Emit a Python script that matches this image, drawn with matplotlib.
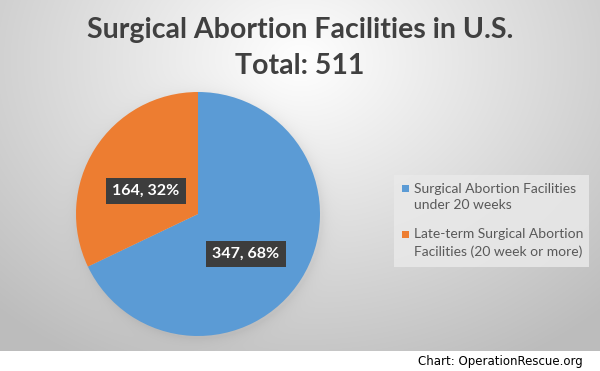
import matplotlib.pyplot as plt
from matplotlib.patches import Rectangle
import numpy as np

# Data
categories = ['Surgical Abortion Facilities\nunder 20 weeks',
              'Late-term Surgical Abortion\nFacilities (20 week or more)']
values = [347, 164]
percents = [68, 32]
colors = ['#5B9BD5', '#ED7D31']

fig = plt.figure(figsize=(6, 3.71), dpi=100)

r = 122
cx, cy = 198, 214

# background radial gradient (chart area) and white footer strip
bg = fig.add_axes([0, 0, 1, 1])
yy, xx = np.mgrid[0:371, 0:600]
d = np.sqrt(((xx - 300) / 420.0) ** 2 + ((yy - 60) / 330.0) ** 2)
shade = np.clip(1.0 - 0.25 * d, 0.74, 1.0)
# soft shadow around the pie
dp = np.sqrt((xx - cx - 2) ** 2 + (yy - cy - 2) ** 2) - r
shade = shade - 0.05 * np.exp(-np.clip(dp, 0, None) / 6.0)
img = np.dstack([shade, shade, shade])
img[351:, :, :] = 1.0
bg.imshow(img, aspect='auto', extent=[0, 600, 371, 0])
bg.set_xlim(0, 600)
bg.set_ylim(371, 0)
bg.axis('off')

# title
fig.text(0.5, 1 - 30 / 371, 'Surgical Abortion Facilities in U.S.', ha='center', va='center',
         fontsize=20.5, fontweight='bold', color='#404040', family='Lato')
fig.text(0.5, 1 - 66 / 371, 'Total: 511', ha='center', va='center',
         fontsize=20.5, fontweight='bold', color='#404040', family='Lato')

# pie
ax = fig.add_axes([(cx - r) / 600, 1 - (cy + r) / 371, 2 * r / 600, 2 * r / 371])
wedges, _ = ax.pie(values, colors=colors, startangle=90, counterclock=False,
                   wedgeprops=dict(linewidth=0))
ax.set_aspect('auto')
ax.set_xlim(-1, 1)
ax.set_ylim(-1, 1)
ax.axis('off')

label_pos = [(246, 254), (146, 191)]
for (px, py), v, p in zip(label_pos, values, percents):
    fig.text(px / 600, 1 - py / 371, f'{v}, {p}%', ha='center', va='center',
             fontsize=11.5, fontweight='bold', color='white', family='Lato',
             bbox=dict(boxstyle='square,pad=0.4', fc='#3d3d3d', ec='none'))

# legend (drawn by hand)
bg.add_patch(Rectangle((394, 175), 195, 92, fc='#e9e9e9', ec='none', alpha=0.85))
text_y = [197, 243]
for c, lab, ty in zip(colors, categories, text_y):
    bg.add_patch(Rectangle((402, ty - 12), 7, 7, fc=c, ec='none'))
    bg.text(414, ty, lab, ha='left', va='center', fontsize=10, color='#595959',
            family='Lato', linespacing=1.45)

# footer
fig.text(583 / 600, 1 - 361 / 371, 'Chart: OperationRescue.org', ha='right', va='center',
         fontsize=8.5, color='black', family='DejaVu Sans')

plt.savefig('out.png', dpi=100)
